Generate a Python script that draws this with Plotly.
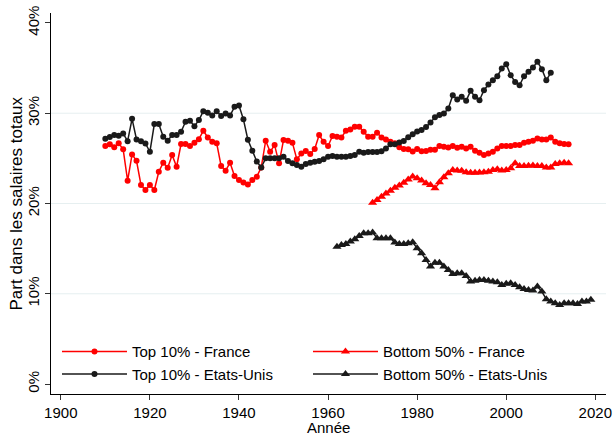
import plotly.graph_objects as go

# ---------------- data ----------------
years_top_fr = list(range(1910, 2015))
top10_france = [
    26.36, 26.55, 26.22, 26.66, 26.00, 22.52, 25.44, 24.73, 22.05, 21.49,  # 1910-1919
    22.05, 21.49, 23.52, 24.52, 23.96, 25.36, 24.07, 26.58, 26.58, 26.36,  # 1920-1929
    26.73, 27.13, 28.05, 27.32, 26.84, 26.66, 24.15, 23.63, 24.52, 23.04,  # 1930-1939
    22.60, 22.32, 22.10, 22.60, 22.97, 24.00, 26.95, 25.73, 26.47, 24.45,  # 1940-1949
    27.02, 26.95, 26.73, 24.89, 25.55, 25.81, 25.47, 26.03, 27.58, 26.84,  # 1950-1959
    26.36, 27.47, 27.39, 27.32, 28.05, 28.20, 28.50, 28.50, 27.94, 27.39,  # 1960-1969
    27.39, 27.83, 27.32, 27.10, 26.84, 26.66, 26.24, 26.05, 26.01, 25.77,  # 1970-1979
    26.05, 25.79, 25.81, 25.96, 25.96, 26.38, 26.28, 26.20, 26.36, 26.17,  # 1980-1989
    26.28, 26.10, 26.28, 25.84, 25.62, 25.36, 25.55, 25.73, 26.10, 26.36,  # 1990-1999
    26.36, 26.36, 26.47, 26.47, 26.73, 26.84, 26.95, 27.21, 27.10, 27.10,  # 2000-2009
    27.32, 26.84, 26.66, 26.58, 26.55,                                     # 2010-2014
]

years_top_us = list(range(1910, 2011))
top10_us = [
    27.17, 27.36, 27.58, 27.50, 27.76, 26.90, 29.38, 27.10, 26.90, 26.65,  # 1910-1919
    25.73, 28.80, 28.80, 27.39, 26.95, 27.58, 27.58, 27.94, 29.05, 29.16,  # 1920-1929
    28.57, 29.24, 30.23, 30.05, 29.75, 30.23, 29.68, 29.97, 29.75, 30.71,  # 1930-1939
    30.86, 29.32, 27.06, 25.84, 24.65, 24.00, 25.00, 25.00, 25.00, 25.00,  # 1940-1949
    25.18, 24.70, 24.45, 24.26, 24.07, 24.37, 24.52, 24.63, 24.70, 24.89,  # 1950-1959
    25.18, 25.25, 25.18, 25.18, 25.18, 25.25, 25.36, 25.73, 25.62, 25.70,  # 1960-1969
    25.70, 25.70, 25.80, 26.10, 26.55, 26.55, 26.77, 26.93, 27.35, 27.67,  # 1970-1979
    27.98, 28.13, 28.46, 28.96, 29.55, 29.79, 29.97, 30.53, 32.00, 31.52,  # 1980-1989
    31.81, 31.37, 32.48, 31.81, 31.44, 32.55, 33.18, 33.66, 34.10, 34.95,  # 1990-1999
    35.43, 34.21, 33.47, 33.10, 34.10, 34.58, 35.07, 35.69, 34.88, 33.66,  # 2000-2009
    34.47,                                                                 # 2010
]

years_bot_fr = list(range(1970, 2015))
bottom50_france = [
    20.09, 20.40, 20.75, 21.10, 21.40, 21.75, 22.00, 22.30, 22.65, 23.00,  # 1970-1979
    22.80, 22.55, 22.25, 22.05, 21.70, 22.35, 22.90, 23.35, 23.70, 23.65,  # 1980-1989
    23.63, 23.45, 23.40, 23.40, 23.42, 23.45, 23.52, 23.70, 23.78, 23.65,  # 1990-1999
    23.70, 23.90, 24.45, 24.15, 24.15, 24.19, 24.22, 24.15, 24.15, 24.00,  # 2000-2009
    24.00, 24.37, 24.45, 24.52, 24.45,                                     # 2010-2014
]

years_bot_us = list(range(1962, 2020))
bottom50_us = [
    15.22, 15.41, 15.52, 15.78, 16.04, 16.40, 16.70, 16.70,                # 1962-1969
    16.80, 16.15, 16.15, 16.15, 16.15, 15.67, 15.52, 15.52, 15.60, 15.70,  # 1970-1979
    15.04, 14.49, 13.75, 13.01, 13.45, 13.45, 13.01, 12.64, 12.20, 12.28,  # 1980-1989
    12.28, 11.98, 11.35, 11.43, 11.54, 11.54, 11.43, 11.35, 11.28, 10.98,  # 1990-1999
    11.10, 11.17, 10.98, 10.73, 10.54, 10.43, 10.35, 10.80, 10.24, 9.40,   # 2000-2009
    9.14, 8.96, 8.77, 8.96, 8.96, 8.96, 8.88, 9.14, 9.14, 9.33,            # 2010-2019
]

x_ticks = [1900, 1920, 1940, 1960, 1980, 2000, 2020]
y_ticks = [0, 10, 20, 30, 40]
y_ticklabels = ["0%", "10%", "20%", "30%", "40%"]
grid_levels = [10, 20, 30]

series_names = ["Top 10% - France", "Bottom 50% - France",
                "Top 10% - Etats-Unis", "Bottom 50% - Etats-Unis"]
x_title = "Année"
y_title = "Part dans les salaires totaux"

# ---------------- figure ----------------
RED = "#ff0000"
BLACK = "#1a1a1a"
FONT = "Liberation Sans, Arial, Helvetica, sans-serif"

fig = go.Figure()

def add(x, y, name, color, symbol, msize):
    fig.add_trace(go.Scatter(
        x=x, y=y, name=name, mode="lines+markers",
        line=dict(color=color, width=1.5),
        marker=dict(color=color, symbol=symbol, size=msize, line=dict(width=0)),
    ))

add(years_top_fr, top10_france, series_names[0], RED, "circle", 6)
add(years_bot_fr, bottom50_france, series_names[1], RED, "triangle-up", 8)
add(years_top_us, top10_us, series_names[2], BLACK, "circle", 6)
add(years_bot_us, bottom50_us, series_names[3], BLACK, "triangle-up", 8)

for g in grid_levels:
    fig.add_shape(type="line", xref="paper", x0=0, x1=1, yref="y", y0=g, y1=g,
                  line=dict(color="#e6eff0", width=1), layer="below")

# axis titles as text annotations at fixed spots
fig.add_annotation(text=x_title, xref="paper", yref="paper", x=0.5, y=-0.088,
                   xanchor="center", yanchor="middle", showarrow=False,
                   borderpad=0, font=dict(size=15))
fig.add_annotation(text=y_title, xref="paper", yref="paper", x=-0.0613, y=0.5,
                   xanchor="center", yanchor="middle", showarrow=False,
                   borderpad=0, textangle=-90, font=dict(size=17))

fig.update_layout(
    template="none",
    width=615, height=436,
    margin=dict(l=51, r=9, t=13, b=42, autoexpand=False),
    paper_bgcolor="white", plot_bgcolor="white",
    font=dict(family=FONT, size=15, color="black"),
    showlegend=True,
    legend=dict(
        orientation="h", x=0.0108, y=0.01, xanchor="left", yanchor="bottom",
        bgcolor="rgba(0,0,0,0)", borderwidth=0, font=dict(size=15),
        entrywidth=171, itemwidth=65, tracegroupgap=0,
    ),
    xaxis=dict(
        range=[1897.8, 2022.4], tickmode="array", tickvals=x_ticks,
        automargin=False,
        showgrid=False, zeroline=False, showline=True, linecolor="black", linewidth=1,
        ticks="outside", ticklen=5, tickcolor="#333333",
        tickfont=dict(size=15),
    ),
    yaxis=dict(
        range=[-1.1, 41.1], tickmode="array", tickvals=y_ticks, ticktext=y_ticklabels,
        tickangle=-90, automargin=False,
        showgrid=False, zeroline=False, showline=True, linecolor="black", linewidth=1,
        ticks="outside", ticklen=5, tickcolor="#333333",
        tickfont=dict(size=15),
    ),
)

fig.write_html("out.html",
               config={"displayModeBar": False},
               post_script="document.body.style.margin='0px';document.body.style.overflow='hidden';")
